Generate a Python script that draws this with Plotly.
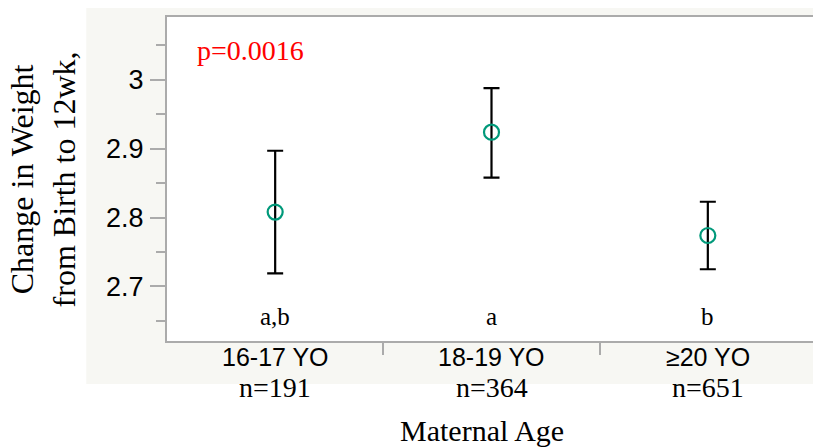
import plotly.graph_objects as go

# ---- data ----
categories = ["16-17 YO", "18-19 YO", "\u226520 YO"]
n_labels = ["n=191", "n=364", "n=651"]
means = [2.808, 2.924, 2.774]
upper = [2.897, 2.988, 2.823]
lower = [2.719, 2.858, 2.725]
letters = ["a,b", "a", "b"]
y_tickvals = [2.7, 2.8, 2.9, 3.0]
y_ticktext = ["2.7", "2.8", "2.9", "3"]
y_minor = [2.65, 2.75, 2.85, 2.95, 3.05]
p_text = "p=0.0016"

SERIF = "Liberation Serif"
SANS = "Liberation Sans"
GRAY = "#ababab"
BEIGE = "#f7f7f3"
GREEN = "#00997a"

xpos = list(range(len(categories)))

fig = go.Figure()
fig.add_trace(go.Scatter(
    x=xpos, y=means, mode="markers",
    marker=dict(symbol="circle-open", size=15, color=GREEN, line=dict(width=2.2, color=GREEN)),
    error_y=dict(type="data", symmetric=False,
                 array=[u - m for u, m in zip(upper, means)],
                 arrayminus=[m - l for m, l in zip(means, lower)],
                 color="black", thickness=2.2, width=8),
    showlegend=False, hoverinfo="skip"))

annotations = []
for i, (c, n, L) in enumerate(zip(categories, n_labels, letters)):
    annotations.append(dict(x=i, y=-0.049, xref="x", yref="paper", text=c, showarrow=False,
                            font=dict(family=SANS, size=25, color="black"), xanchor="center", yanchor="middle"))
    annotations.append(dict(x=i, y=-0.145, xref="x", yref="paper", text=n, showarrow=False,
                            font=dict(family=SERIF, size=28, color="black"), xanchor="center", yanchor="middle"))
    annotations.append(dict(x=i, y=0.077, xref="x", yref="paper", text=L, showarrow=False,
                            font=dict(family=SERIF, size=25, color="black"), xanchor="center", yanchor="middle"))

annotations.append(dict(x=(195 - 167) / 651, y=1 - (50 - 17) / 324, xref="paper", yref="paper", text=p_text,
                        showarrow=False, font=dict(family=SERIF, size=28, color="red"),
                        xanchor="left", yanchor="middle"))
annotations.append(dict(x=(483 - 167) / 651, y=-0.275, xref="paper", yref="paper", text="Maternal Age",
                        showarrow=False, font=dict(family=SERIF, size=30, color="black"),
                        xanchor="center", yanchor="middle"))
annotations.append(dict(x=(43 - 167) / 651, y=0.5, xref="paper", yref="paper",
                        text="Change in Weight<br>from Birth to 12wk,", textangle=-90,
                        showarrow=False, font=dict(family=SERIF, size=32, color="black"),
                        xanchor="center", yanchor="middle"))

shapes = [
    dict(type="rect", xref="paper", yref="paper", x0=(86 - 167) / 651, x1=(821 - 167) / 651,
         y0=-(384 - 341) / 324, y1=1 + (17 - 4) / 324, fillcolor=BEIGE, line=dict(width=0), layer="below"),
    dict(type="rect", xref="paper", yref="paper", x0=0, x1=1, y0=0, y1=1,
         fillcolor="white", line=dict(width=0), layer="below"),
]

# page body has an 8px margin, so the figure is sized/offset to compensate
fig.update_layout(
    width=813, height=439,
    margin=dict(l=159, r=3, t=9, b=106),
    paper_bgcolor="white", plot_bgcolor="rgba(0,0,0,0)",
    annotations=annotations, shapes=shapes,
    xaxis=dict(range=[-0.5, 2.5], tickvals=[0.5, 1.5], ticktext=["", ""], ticks="outside",
               ticklen=12, tickwidth=2, tickcolor=GRAY, showgrid=False, zeroline=False,
               showline=True, linecolor=GRAY, linewidth=2, mirror=True, fixedrange=True),
    yaxis=dict(range=[2.6208, 3.0912], tickvals=y_tickvals, ticktext=y_ticktext, ticks="outside",
               ticklen=15, tickwidth=2, tickcolor=GRAY, showgrid=False, zeroline=False,
               showline=True, linecolor=GRAY, linewidth=2, mirror=True,
               tickfont=dict(family=SANS, size=27, color="black"), ticklabelstandoff=1,
               minor=dict(tickvals=y_minor, ticks="outside", ticklen=9, tickwidth=2, tickcolor=GRAY,
                          showgrid=False),
               fixedrange=True),
)

fig.write_html("out.html")
